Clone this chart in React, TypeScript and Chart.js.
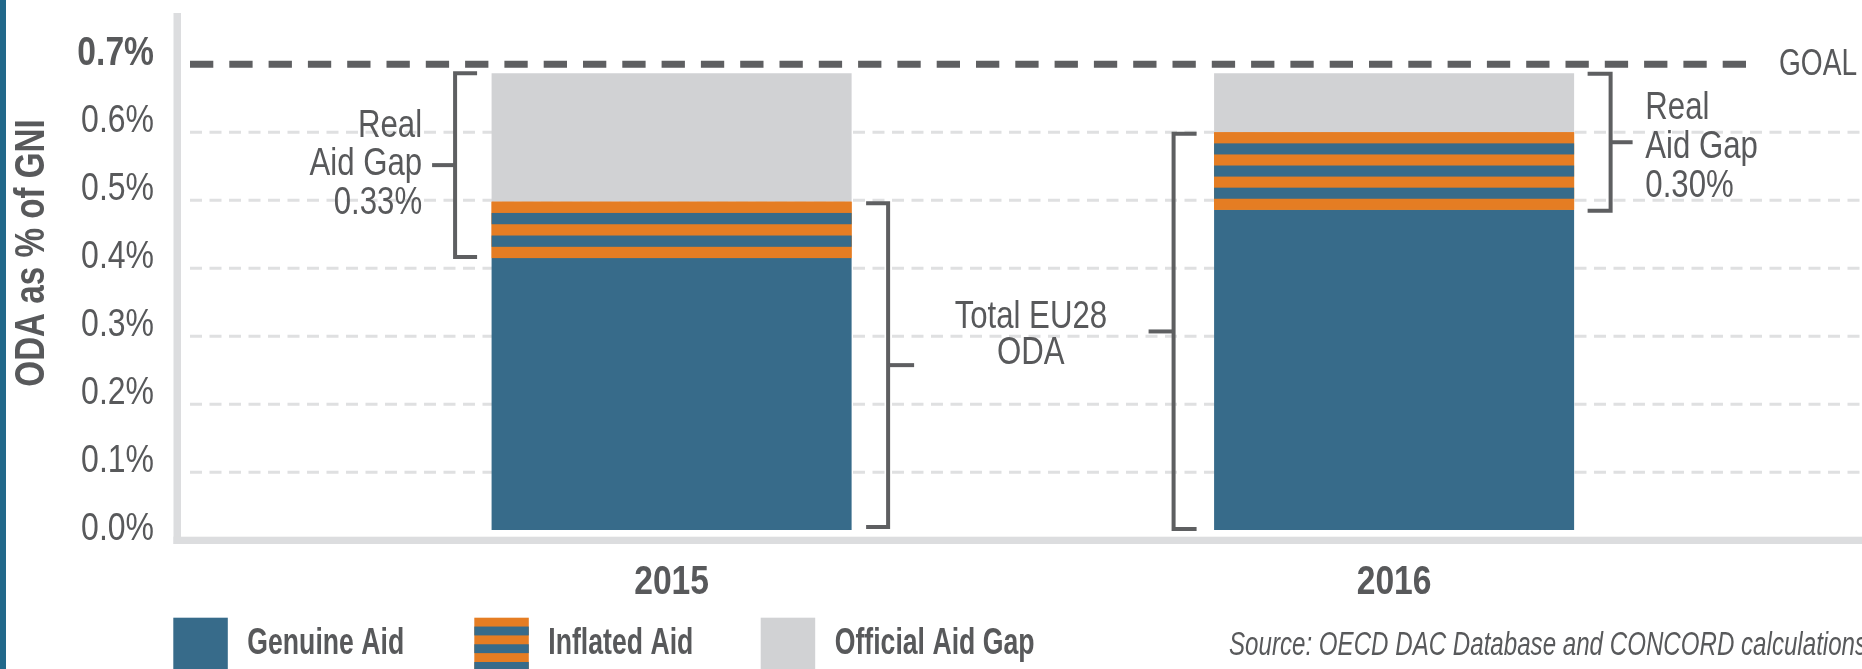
import { useEffect, useRef } from 'react';
import { Chart, registerables } from 'chart.js';

Chart.register(...registerables);

// ---------- data ----------
const categories = ['2015', '2016'];
const seriesNames = ['Genuine Aid', 'Inflated Aid', 'Official Aid Gap'];
const genuineAid = [0.415, 0.486];
const inflatedAid = [0.083, 0.114];
const officialAidGap = [0.189, 0.087];
const goalValue = 0.7;
const yTicks = [0, 0.1, 0.2, 0.3, 0.4, 0.5, 0.6, 0.7];
const realAidGapText = ['0.33%', '0.30%'];
const realAidGapTitle = ['Real', 'Aid Gap'];
const totalOdaText = ['Total EU28', 'ODA'];
const goalText = 'GOAL';
const yTitle = 'ODA as % of GNI';
const sourceText = 'Source: OECD DAC Database and CONCORD calculations';

// ---------- styles ----------
const TEXT = '#58595b';
const BLUE = '#376b8a';
const ORANGE = '#e57d23';
const GAP_GRAY = '#d1d2d4';
const GRID = '#dfe0e1';
const AXIS = '#dcdddf';
const DARK = '#5e5f61';
const TEAL = '#21688a';
const FONT = '"Liberation Sans", Arial, sans-serif';
const BAR_FOOT = 0.015;
const W = 1862;
const H = 669;

type TxtOpts = { size: number; weight?: string; style?: string; align?: CanvasTextAlign; rot?: number; sx?: number };

function txt(ctx: CanvasRenderingContext2D, s: string, x: number, y: number, o: TxtOpts) {
  ctx.save();
  ctx.font = `${o.style || 'normal'} ${o.weight || 'normal'} ${o.size}px ${FONT}`;
  ctx.textAlign = o.align || 'left';
  ctx.textBaseline = 'middle';
  ctx.fillStyle = TEXT;
  ctx.translate(x, y);
  if (o.rot) ctx.rotate(o.rot);
  ctx.scale(o.sx ?? 0.82, 1);
  ctx.fillText(s, 0, 0);
  ctx.restore();
}

function drawStripes(ctx: CanvasRenderingContext2D, x: number, y: number, w: number, h: number, band: number) {
  let n = Math.max(1, Math.round(h / band));
  if (n % 2 === 0) n += 1;
  const b = h / n;
  ctx.fillStyle = ORANGE;
  ctx.fillRect(x, y, w, h);
  ctx.fillStyle = BLUE;
  for (let i = 1; i < n; i += 2) ctx.fillRect(x, y + i * b, w, b);
}

function bracket(ctx: CanvasRenderingContext2D, vx: number, y1: number, y2: number, inward: number, tick: number, mid: number) {
  ctx.beginPath();
  ctx.moveTo(vx + inward * tick, y1);
  ctx.lineTo(vx, y1);
  ctx.lineTo(vx, y2);
  ctx.lineTo(vx + inward * tick, y2);
  ctx.stroke();
  const my = (y1 + y2) / 2;
  ctx.beginPath();
  ctx.moveTo(vx, my);
  ctx.lineTo(vx - inward * mid, my);
  ctx.stroke();
  return my;
}

const decor = {
  id: 'decor',
  beforeDatasetsDraw(chart: any) {
    const { ctx } = chart;
    const y = chart.scales.y;
    ctx.save();
    ctx.fillStyle = TEAL;
    ctx.fillRect(0, 0, 6, H);
    ctx.strokeStyle = GRID;
    ctx.lineWidth = 3;
    ctx.setLineDash([12, 7.5]);
    y.ticks.forEach((t: any) => {
      const v = t.value;
      if (v <= 0 || v >= goalValue) return;
      const py = y.getPixelForValue(v);
      ctx.beginPath();
      ctx.moveTo(190, py);
      ctx.lineTo(W, py);
      ctx.stroke();
    });
    ctx.setLineDash([]);
    const zeroY = y.getPixelForValue(0);
    ctx.fillStyle = AXIS;
    ctx.fillRect(173.5, 13, 7.5, zeroY + 3.7 - 13);
    ctx.fillRect(173.5, zeroY - 3.6, W - 173.5, 7.3);
    ctx.restore();
  },
  afterDatasetsDraw(chart: any) {
    const { ctx } = chart;
    const y = chart.scales.y;
    const x = chart.scales.x;
    const m0 = chart.getDatasetMeta(0);
    const m1 = chart.getDatasetMeta(1);
    ctx.save();
    // inflated aid stripes
    m1.data.forEach((el: any) => {
      const p = el.getProps(['x', 'y', 'base', 'width'], true);
      drawStripes(ctx, p.x - p.width / 2, p.y, p.width, p.base - p.y, 11.2);
    });

    // y tick labels (from the scale)
    y.ticks.forEach((t: any) => {
      const isGoal = Math.abs(t.value - goalValue) < 1e-9;
      txt(ctx, Number(t.value).toFixed(1) + '%', 154, y.getPixelForValue(t.value) - 11, {
        size: isGoal ? 41 : 39,
        weight: isGoal ? 'bold' : 'normal',
        align: 'right',
      });
    });
    // x category labels (from the scale)
    x.getLabels().forEach((lab: string, i: number) => {
      txt(ctx, lab, x.getPixelForValue(i), x.top + 42, { size: 41, weight: 'bold', align: 'center' });
    });

    // goal line
    const gy = y.getPixelForValue(goalValue);
    ctx.strokeStyle = DARK;
    ctx.lineWidth = 7;
    ctx.setLineDash([23.3, 16]);
    ctx.beginPath();
    ctx.moveTo(190, gy);
    ctx.lineTo(1752, gy);
    ctx.stroke();
    ctx.setLineDash([]);
    txt(ctx, goalText, 1779, gy + 0.5, { size: 37, sx: 0.76 });

    // brackets
    ctx.strokeStyle = DARK;
    ctx.lineWidth = 4;
    ctx.lineJoin = 'miter';
    ctx.lineCap = 'butt';
    const bars = m0.data.map((el: any) => el.getProps(['x', 'width', 'base'], true));
    const odaX: number[] = [];
    let odaMid1 = 0;
    categories.forEach((_, i) => {
      const left = bars[i].x - bars[i].width / 2;
      const right = bars[i].x + bars[i].width / 2;
      const yG = y.getPixelForValue(genuineAid[i]);
      const yODA = y.getPixelForValue(genuineAid[i] + inflatedAid[i]);
      const yTop = y.getPixelForValue(genuineAid[i] + inflatedAid[i] + officialAidGap[i]);
      const yFoot = bars[i].base;
      if (i === 0) {
        const vx = left - 36.5;
        const my = bracket(ctx, vx, yTop, yG - 1, 1, 22, 23);
        const tx = vx - 23 - 10;
        txt(ctx, realAidGapTitle[0], tx, my - 39, { size: 38, align: 'right' });
        txt(ctx, realAidGapTitle[1], tx, my - 1, { size: 38, align: 'right' });
        txt(ctx, realAidGapText[i], tx, my + 38, { size: 38, align: 'right' });
        const ox = right + 36.5;
        bracket(ctx, ox, yODA + 1.5, yFoot - 3, -1, 22, 26);
        odaX.push(ox);
      } else {
        const ox = left - 40.5;
        odaMid1 = bracket(ctx, ox, yODA + 1.5, yFoot - 1, 1, 23, 25);
        odaX.push(ox);
        const vx = right + 36.5;
        const my = bracket(ctx, vx, yTop + 0.5, yG + 1, -1, 23, 22);
        const tx = vx + 34.7;
        txt(ctx, realAidGapTitle[0], tx, my - 33.5, { size: 38 });
        txt(ctx, realAidGapTitle[1], tx, my + 5.5, { size: 38 });
        txt(ctx, realAidGapText[i], tx, my + 44, { size: 38 });
      }
    });
    // Total EU28 ODA text
    const cx = (odaX[0] + odaX[1]) / 2;
    txt(ctx, totalOdaText[0], cx, odaMid1 - 14, { size: 38, align: 'center' });
    txt(ctx, totalOdaText[1], cx, odaMid1 + 22, { size: 38, align: 'center' });

    // y title
    txt(ctx, yTitle, 32, 253, { size: 42, weight: 'bold', align: 'center', rot: -Math.PI / 2, sx: 0.79 });

    // legend
    const legendX = [173.3, 474.3, 760.7];
    const boxTop = 617.7;
    const boxW = 54.5;
    const boxH = 62;
    seriesNames.forEach((name, k) => {
      const bx = legendX[k];
      if (k === 1) {
        drawStripes(ctx, bx, boxTop, boxW, boxH, 10.7);
      } else {
        ctx.fillStyle = chart.data.datasets[k].backgroundColor;
        ctx.fillRect(bx, boxTop, boxW, boxH);
      }
      txt(ctx, name, bx + 74, 643.5, { size: 37, weight: 'bold', sx: 0.72 });
    });

    // source
    txt(ctx, sourceText, 1229, 646, { size: 33.5, style: 'italic', sx: 0.72 });
    ctx.restore();
  },
};

export default function App() {
  const ref = useRef<HTMLCanvasElement>(null);
  useEffect(() => {
    document.body.style.margin = '0';
    const chart = new Chart(ref.current as HTMLCanvasElement, {
      type: 'bar',
      data: {
        labels: categories,
        datasets: [
          { label: seriesNames[0], data: genuineAid, backgroundColor: BLUE, base: BAR_FOOT } as any,
          { label: seriesNames[1], data: inflatedAid, backgroundColor: ORANGE },
          { label: seriesNames[2], data: officialAidGap, backgroundColor: GAP_GRAY },
        ],
      },
      options: {
        responsive: false,
        animation: false,
        events: [],
        layout: { padding: { left: 0, right: W - 1755.35, top: 64.3, bottom: 0 } },
        datasets: { bar: { barPercentage: 0.4983, categoryPercentage: 1, borderWidth: 0 } },
        plugins: { legend: { display: false }, tooltip: { enabled: false } },
        scales: {
          x: {
            stacked: true,
            afterFit: (s: any) => {
              s.height = H - 540.3;
              s.paddingLeft = 0;
              s.paddingRight = 0;
            },
            grid: { display: false, drawTicks: false },
            border: { display: false },
            ticks: { display: false },
          },
          y: {
            stacked: true,
            min: 0,
            max: goalValue,
            afterBuildTicks: (s: any) => { s.ticks = yTicks.map((v) => ({ value: v })); },
            afterFit: (s: any) => {
              s.width = 310.35;
              s.paddingTop = 0;
              s.paddingBottom = 0;
            },
            grid: { display: false, drawTicks: false },
            border: { display: false },
            ticks: { display: false },
          },
        },
      },
      plugins: [decor],
    } as any);
    return () => chart.destroy();
  }, []);
  return (
    <div style={{ position: 'fixed', left: 0, top: 0, width: W, height: H, background: '#fff' }}>
      <canvas ref={ref} width={W} height={H} style={{ display: 'block', width: W, height: H }} />
    </div>
  );
}
